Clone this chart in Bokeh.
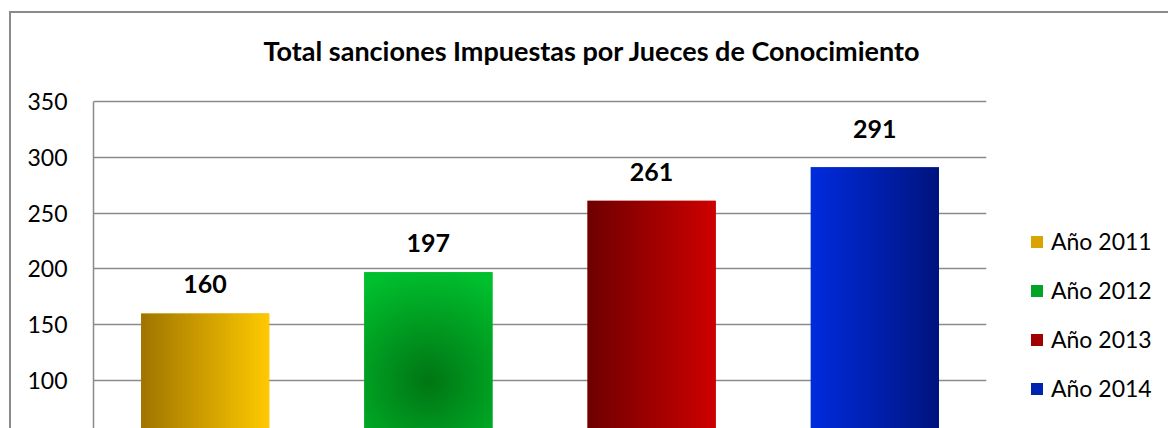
import numpy as np
from bokeh.plotting import figure
from bokeh.models import (ColumnDataSource, Range1d, FixedTicker, LabelSet,
                          Legend, LegendItem, Label)
from bokeh.core.properties import value
from bokeh.embed import file_html
from bokeh.resources import INLINE

# ---- data ----
years = ["Año 2011", "Año 2012", "Año 2013", "Año 2014"]
values = [160, 197, 261, 291]
title_text = "Total sanciones  Impuestas por Jueces de Conocimiento"
y_ticks = [100, 150, 200, 250, 300, 350]

# ---- styles ----
bar_mid = ["#D9A400", "#00A526", "#A00000", "#0024B0"]
grad_left = [(160, 118, 0), None, (112, 0, 0), (0, 44, 222)]
grad_right = [(255, 202, 0), None, (206, 0, 0), (0, 20, 128)]
green_center = (0, 118, 20)
green_edge = (0, 192, 46)
label_lift = [21, 20, 20, 29]
BAR_W = 0.574

# layout (pixels)
FRAME_W, FRAME_H = 893, 398
Y_MIN, Y_AXIS_TOP = 57, 350
PX_PER_UNIT = 327 / (Y_AXIS_TOP - Y_MIN)
Y_MAX = Y_MIN + FRAME_H / PX_PER_UNIT
X_MIN, X_MAX = -0.5, 3.5

xs = list(range(len(years)))
src = ColumnDataSource(dict(x=xs, top=values, label=years, color=bar_mid,
                            txt=[str(v) for v in values], lift=label_lift))

p = figure(frame_width=FRAME_W, frame_height=FRAME_H, output_backend="svg",
           toolbar_location=None,
           x_range=Range1d(X_MIN, X_MAX), y_range=Range1d(Y_MIN, Y_MAX),
           x_axis_location=None, min_border_left=82, min_border_right=182,
           min_border_top=17, min_border_bottom=0)
p.styles = {"margin-left": "9px", "margin-top": "11px",
            "border-left": "2px solid #8a8a8a",
            "border-top": "2px solid #8a8a8a"}
p.outline_line_color = None
p.background_fill_color = "white"
p.border_fill_color = "white"

# y axis
p.yaxis.ticker = FixedTicker(ticks=y_ticks)
p.yaxis.bounds = (Y_MIN, Y_AXIS_TOP)
p.yaxis.major_tick_out = 0
p.yaxis.major_tick_in = 0
p.yaxis.minor_tick_out = 0
p.yaxis.minor_tick_in = 0
p.yaxis.major_label_standoff = 26
p.yaxis.major_label_text_font = "Lato"
p.yaxis.major_label_text_font_size = "23px"
p.yaxis.major_label_text_color = "black"
p.yaxis.axis_line_color = "#8a8a8a"
p.yaxis.axis_line_width = 1.5
p.ygrid.grid_line_color = "#8a8a8a"
p.ygrid.grid_line_width = 1.5
p.xgrid.grid_line_color = None

# title (drawn as text above the value area, centred on the chart)
title_cx = X_MIN + 502 / (FRAME_W / (X_MAX - X_MIN))
title_base = Y_AXIS_TOP + 51 / PX_PER_UNIT
p.add_layout(Label(x=title_cx, y=title_base, text=title_text,
                   text_align="center", text_baseline="alphabetic",
                   text_font="Lato", text_font_style="bold",
                   text_font_size="27px", text_color="black"))

# bars
bars = p.vbar(x="x", top="top", bottom=0, width=BAR_W, source=src,
              fill_color="color", line_color=None)


def to_rgba(arr3):
    ny, nx, _ = arr3.shape
    img = np.empty((ny, nx), dtype=np.uint32)
    v = img.view(dtype=np.uint8).reshape((ny, nx, 4))
    v[..., :3] = np.clip(arr3, 0, 255).astype(np.uint8)
    v[..., 3] = 255
    return img


for i, val in enumerate(values):
    if grad_left[i] is not None:
        nx = 96
        t = np.linspace(0, 1, nx)[None, :, None]
        c0 = np.array(grad_left[i])[None, None, :]
        c1 = np.array(grad_right[i])[None, None, :]
        arr = c0 + (c1 - c0) * t
        arr = np.repeat(arr, 2, axis=0)
    else:
        nx, ny = 96, 160
        wpx, hpx = 128.0, val * PX_PER_UNIT
        u = (np.linspace(0, 1, nx) - 0.5) * wpx
        w = (np.linspace(0, 1, ny) - 0.5) * hpx
        U, W = np.meshgrid(u, w)
        d = np.clip(np.sqrt(U ** 2 + W ** 2) / 115.0, 0, 1)[..., None]
        c0 = np.array(green_center)[None, None, :]
        c1 = np.array(green_edge)[None, None, :]
        arr = c0 + (c1 - c0) * d
    p.image_rgba(image=[to_rgba(arr)], x=xs[i] - BAR_W / 2, y=0,
                 dw=BAR_W, dh=val)

# data labels
labels = LabelSet(x="x", y="top", text="txt", y_offset="lift", source=src,
                  text_align="center", text_baseline="alphabetic",
                  text_font=value("Lato"), text_font_style="bold",
                  text_font_size="25px", text_color="black")
p.add_layout(labels)

# legend
lg = Legend(items=[LegendItem(label=years[i], renderers=[bars], index=i)
                   for i in range(len(years))])
lg.location = (43, 26)
lg.border_line_color = None
lg.background_fill_alpha = 0
lg.margin = 0
lg.padding = 0
lg.glyph_width = 15
lg.glyph_height = 15
lg.label_standoff = 7
lg.spacing = 21
lg.label_text_font = "Lato"
lg.label_text_font_size = "23px"
lg.label_text_color = "black"
p.add_layout(lg, "right")

open("out.html", "w").write(file_html(p, INLINE))
